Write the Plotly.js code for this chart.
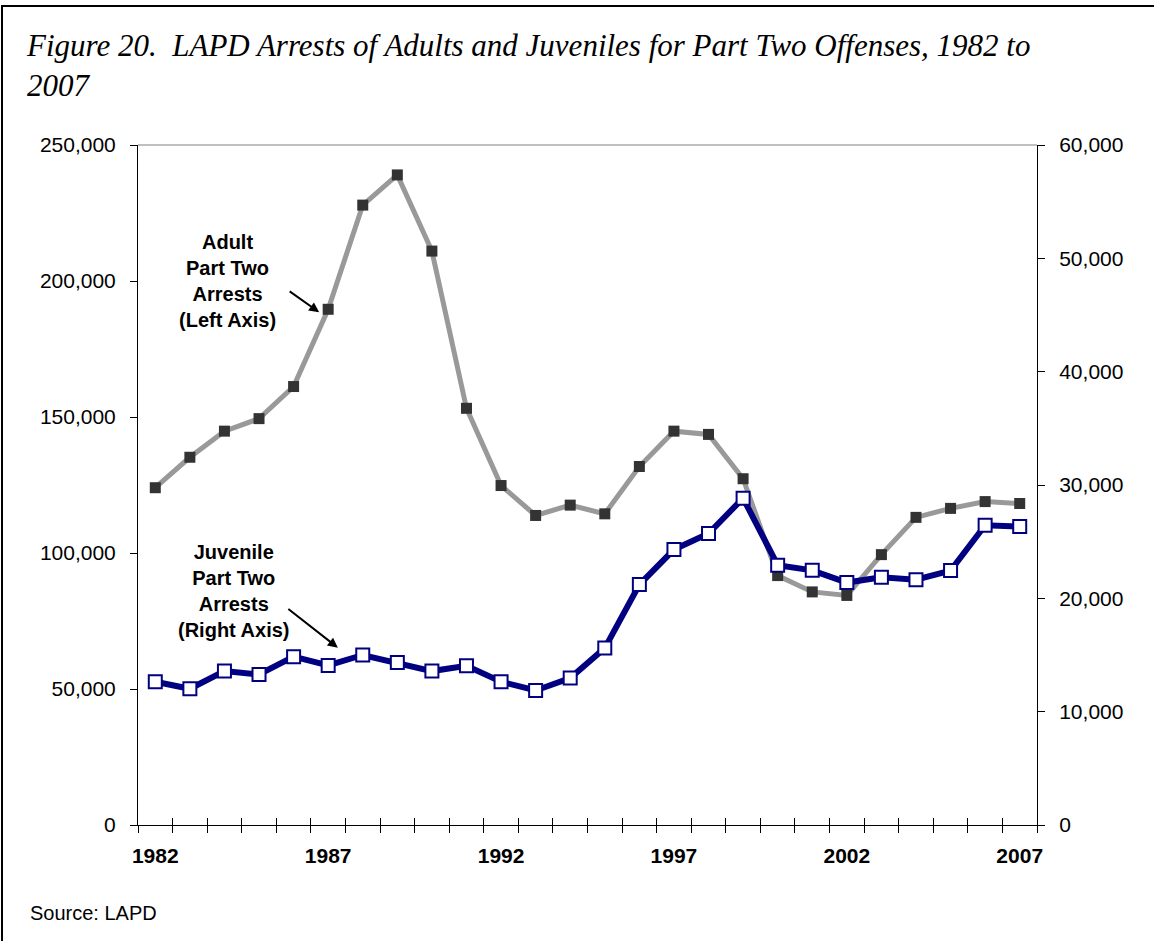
<!DOCTYPE html>
<html>
<head>
<meta charset="utf-8">
<script src="https://cdn.plot.ly/plotly-3.0.1.min.js"></script>
<style>
  html, body { margin: 0; padding: 0; background: #fff; }
  #chart { width: 1154px; height: 941px; }
  #lineTop { position: absolute; left: 1px; top: 5px; width: 1153px; height: 2px; background: #000; }
  #lineLeft { position: absolute; left: 1px; top: 5px; width: 2px; height: 936px; background: #000; }
</style>
</head>
<body>
<div id="chart"></div>
<div id="lineTop"></div>
<div id="lineLeft"></div>
<script>
const years = ['1982','1983','1984','1985','1986','1987','1988','1989','1990','1991','1992','1993','1994',
               '1995','1996','1997','1998','1999','2000','2001','2002','2003','2004','2005','2006','2007'];
const yearLabels = ['1982','','','','','1987','','','','','1992','','','','','1997','','','','','2002','','','','','2007'];
const adultArrests = [124000,135200,144800,149400,161200,189600,227900,239000,211000,153200,124800,113800,117600,
                      114400,131800,144800,143600,127300,91700,85700,84400,99400,113100,116400,118900,118200];
const juvenileArrests = [12640,12020,13580,13280,14850,14080,15000,14340,13580,14050,12640,11870,12960,
                         15610,21210,24300,25720,28840,22920,22470,21390,21860,21650,22450,26450,26330];
const leftTicks = [0,50000,100000,150000,200000,250000];
const rightTicks = [0,10000,20000,30000,40000,50000,60000];

const adultTrace = {
  x: years, y: adultArrests, type: 'scatter', mode: 'lines+markers',
  xaxis: 'x', yaxis: 'y',
  line: {color: '#999999', width: 5},
  marker: {symbol: 'square', size: 11, color: '#333333'},
  hoverinfo: 'x+y', showlegend: false
};
const juvenileTrace = {
  x: years, y: juvenileArrests, type: 'scatter', mode: 'lines+markers',
  xaxis: 'x2', yaxis: 'y2',
  line: {color: '#000080', width: 6},
  marker: {symbol: 'square', size: 13, color: '#ffffff', line: {color: '#000080', width: 2}},
  hoverinfo: 'x+y', showlegend: false
};

const tickFont = {family: 'Liberation Sans, Arial, sans-serif', size: 21, color: '#000'};
const boldFont = {family: 'Liberation Sans, Arial, sans-serif', size: 21, color: '#000', weight: 'bold'};
const annFont = {family: 'Liberation Sans, Arial, sans-serif', size: 20, color: '#000', weight: 'bold'};

const layout = {
  width: 1154, height: 941,
  paper_bgcolor: '#ffffff', plot_bgcolor: '#ffffff',
  margin: {l: 138, r: 117, t: 145, b: 116},
  showlegend: false,
  title: {
    text: '<i>Figure 20.  LAPD Arrests of Adults and Juveniles for Part Two Offenses, 1982 to<br>2007</i>',
    font: {family: 'Liberation Serif, Times New Roman, serif', size: 31, color: '#000'},
    xref: 'container', yref: 'container', x: 27/1154, xanchor: 'left', y: 1 - 56/941, yanchor: 'top'
  },
  xaxis: {
    type: 'category', range: [-0.5, 25.5], tickmode: 'array', tickvals: years, ticktext: yearLabels,
    tickson: 'boundaries', ticks: 'outside', ticklen: 7, tickwidth: 1, tickcolor: '#000',
    showline: true, linecolor: '#000', linewidth: 1, showgrid: false, zeroline: false,
    tickfont: boldFont, tickangle: 0, ticklabelstandoff: 12, anchor: 'y', fixedrange: true
  },
  xaxis2: {
    type: 'category', range: [-0.5, 25.5], tickmode: 'array', tickvals: years, ticktext: yearLabels,
    tickson: 'boundaries', ticks: 'inside', ticklen: 7, tickwidth: 1, tickcolor: '#000',
    overlaying: 'x', anchor: 'y', side: 'bottom', showline: false, showgrid: false, zeroline: false,
    showticklabels: false
  },
  yaxis: {
    range: [0, 250000], tickmode: 'array', tickvals: leftTicks, tickformat: ',',
    ticks: 'outside', ticklen: 7, tickwidth: 1, tickcolor: '#000',
    showline: true, linecolor: '#000', linewidth: 1, showgrid: false, zeroline: false,
    tickfont: tickFont, ticklabelstandoff: 10
  },
  yaxis2: {
    range: [0, 60000], tickmode: 'array', tickvals: rightTicks, tickformat: ',',
    overlaying: 'y', side: 'right', anchor: 'x',
    ticks: 'outside', ticklen: 7, tickwidth: 1, tickcolor: '#000',
    showline: true, linecolor: '#000', linewidth: 1, showgrid: false, zeroline: false,
    tickfont: tickFont, ticklabelstandoff: 10
  },
  yaxis3: {
    range: [0, 250000], tickmode: 'array', tickvals: leftTicks, overlaying: 'y', side: 'left', anchor: 'x',
    ticks: 'inside', ticklen: 7, tickwidth: 1, tickcolor: '#000', showticklabels: false,
    showline: false, showgrid: false, zeroline: false
  },
  yaxis4: {
    range: [0, 60000], tickmode: 'array', tickvals: rightTicks, overlaying: 'y', side: 'right', anchor: 'x',
    ticks: 'inside', ticklen: 7, tickwidth: 1, tickcolor: '#000', showticklabels: false,
    showline: false, showgrid: false, zeroline: false
  },
  shapes: [
    {type: 'line', xref: 'paper', yref: 'paper', x0: 0, x1: 1, y0: 1, y1: 1, line: {color: '#808080', width: 1}}
  ],
  annotations: [
    {xref: 'x', yref: 'y', x: 2.1, y: 199900, text: 'Adult<br>Part Two<br>Arrests<br>(Left Axis)',
     showarrow: false, font: annFont, align: 'center', xanchor: 'center', yanchor: 'middle'},
    {xref: 'x', yref: 'y', x: 2.25, y: 86000, text: 'Juvenile<br>Part Two<br>Arrests<br>(Right Axis)',
     showarrow: false, font: annFont, align: 'center', xanchor: 'center', yanchor: 'middle'},
    {xref: 'x', yref: 'y', x: 4.74, y: 188500, text: '', showarrow: true, arrowhead: 2, arrowsize: 1,
     arrowwidth: 2, arrowcolor: '#000', ax: -31, ay: -22},
    {xref: 'x', yref: 'y', x: 5.28, y: 65170, text: '', showarrow: true, arrowhead: 2, arrowsize: 1,
     arrowwidth: 2, arrowcolor: '#000', ax: -51, ay: -40},
    {xref: 'paper', yref: 'paper', x: -110/899, y: -88/680, text: 'Source: LAPD', showarrow: false,
     xanchor: 'left', yanchor: 'middle', font: {family: 'Liberation Sans, Arial, sans-serif', size: 20, color: '#000'}}
  ]
};

Plotly.newPlot('chart', [adultTrace, juvenileTrace], layout, {displayModeBar: false, staticPlot: true});
</script>
</body>
</html>
